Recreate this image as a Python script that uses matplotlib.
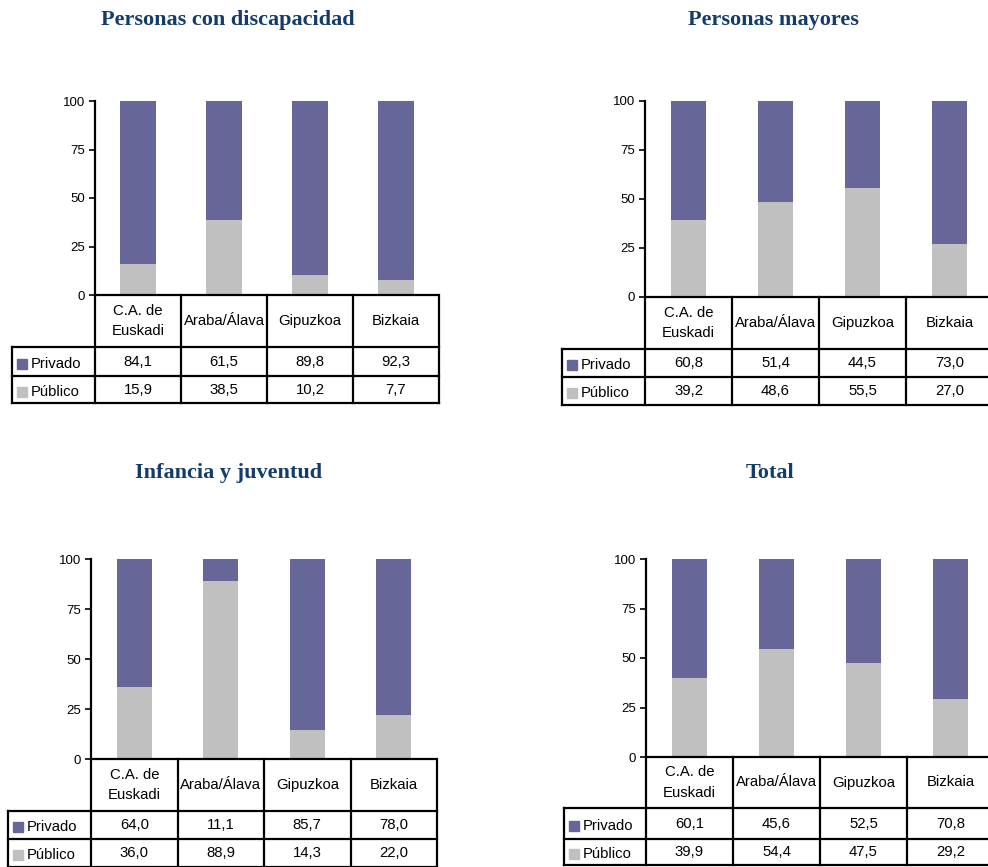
import numpy as np
import matplotlib.pyplot as plt

# Data
regions = ["C.A. de\nEuskadi", "Araba/Álava", "Gipuzkoa", "Bizkaia"]
titles = ["Personas con discapacidad", "Personas mayores", "Infancia y juventud", "Total"]
privado = [
    [84.1, 61.5, 89.8, 92.3],
    [60.8, 51.4, 44.5, 73.0],
    [64.0, 11.1, 85.7, 78.0],
    [60.1, 45.6, 52.5, 70.8],
]
publico = [
    [15.9, 38.5, 10.2, 7.7],
    [39.2, 48.6, 55.5, 27.0],
    [36.0, 88.9, 14.3, 22.0],
    [39.9, 54.4, 47.5, 29.2],
]
yticks = [0, 25, 50, 75, 100]

c_priv = "#666699"
c_pub = "#C0C0C0"
c_title = "#133C6B"

W, H = 988, 867
fig = plt.figure(figsize=(W / 100, H / 100), dpi=100)

# layout in pixels: left, top, bottom(0 line), column width, label col left,
# header bottom, row1 bottom, row2 bottom, title x, title y
layout = [
    (95, 101, 295, 86, 12, 347, 376, 403, 228, 20),
    (645, 101, 297, 87, 562, 349, 377, 405, 773, 20),
    (91, 559, 759, 86.5, 8, 811, 839, 867, 229, 473),
    (646, 559, 757, 87, 564, 808, 839, 865, 770, 473),
]

ov = fig.add_axes([0, 0, 1, 1], zorder=5)
ov.set_xlim(0, W)
ov.set_ylim(H, 0)
ov.axis("off")

tfont = dict(family="Liberation Sans", size=10.7)
lw = 1.6

for i in range(4):
    left, top, bot, cw, lab, hb, r1, r2, tx, ty = layout[i]
    width = 4 * cw
    ax = fig.add_axes([left / W, 1 - bot / H, width / W, (bot - top) / H])
    x = np.arange(4)
    ax.bar(x, publico[i], width=0.41, color=c_pub)
    ax.bar(x, privado[i], bottom=publico[i], width=0.41, color=c_priv)
    ax.set_xlim(-0.5, 3.5)
    ax.set_ylim(0, 100)
    ax.set_yticks(yticks)
    ax.set_yticklabels([str(v) for v in yticks], fontsize=9.5, family="Liberation Sans")
    ax.tick_params(axis="y", length=4, width=1.2, pad=3)
    ax.set_xticks([])
    for s in ["top", "right", "bottom"]:
        ax.spines[s].set_visible(False)
    ax.spines["left"].set_linewidth(lw)
    ax.patch.set_alpha(0)

    ov.text(tx, ty, titles[i], ha="center", va="center", fontsize=16,
            fontweight="bold", family="Liberation Serif", color=c_title)

    right = left + width
    # table lines
    ov.plot([left, right], [bot, bot], color="black", lw=lw, solid_capstyle="butt")
    ov.plot([lab, right], [hb, hb], color="black", lw=lw)
    ov.plot([lab, right], [r1, r1], color="black", lw=lw)
    ov.plot([lab, right], [r2, r2], color="black", lw=lw)
    ov.plot([lab, lab], [hb, r2], color="black", lw=lw)
    for k in range(5):
        xc = left + k * cw
        ov.plot([xc, xc], [bot, r2], color="black", lw=lw)
    # header and values
    for k in range(4):
        ov.text(left + (k + 0.5) * cw, (bot + hb) / 2, regions[k], ha="center",
                va="center", linespacing=1.55, **tfont)
        ov.text(left + (k + 0.5) * cw, (hb + r1) / 2, f"{privado[i][k]:.1f}".replace(".", ","),
                ha="center", va="center", **tfont)
        ov.text(left + (k + 0.5) * cw, (r1 + r2) / 2, f"{publico[i][k]:.1f}".replace(".", ","),
                ha="center", va="center", **tfont)
    # row labels with legend squares
    for (ya, yb), name, col in [((hb, r1), "Privado", c_priv), ((r1, r2), "Público", c_pub)]:
        yc = (ya + yb) / 2 + 2
        ov.add_patch(plt.Rectangle((lab + 5, yc - 5), 10, 10, color=col))
        ov.text(lab + 19, yc, name, ha="left", va="center", **tfont)

fig.savefig("out.png", dpi=100)
